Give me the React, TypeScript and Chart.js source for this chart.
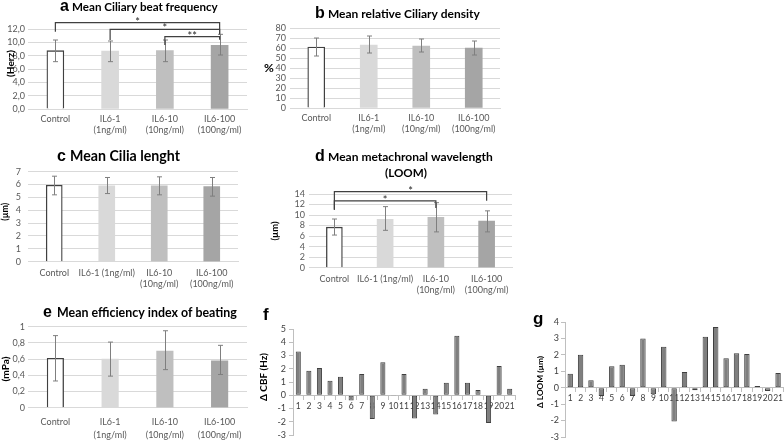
import React, { useEffect, useRef } from 'react';
import { Chart, registerables } from 'chart.js';
Chart.register(...registerables);

const FONT = "Lato, 'Open Sans', 'Liberation Sans', sans-serif";
const LETTER_FONT = "'Liberation Sans', Arial, sans-serif";
Chart.defaults.font.family = FONT;

// ---------- data ----------
const CATS_2LINE: any[] = ['Control', ['IL6-1', '(1ng/ml)'], ['IL6-10', '(10ng/ml)'], ['IL6-100', '(100ng/ml)']];
const CATS_MIXED: any[] = ['Control', 'IL6-1 (1ng/ml)', ['IL6-10', '(10ng/ml)'], ['IL6-100', '(100ng/ml)']];
const SUBJECTS = ['1', '2', '3', '4', '5', '6', '7', '8', '9', '10', '11', '12', '13', '14', '15', '16', '17', '18', '19', '20', '21'];

const CBF_MEAN = [8.75, 8.7, 8.75, 9.55];
const CBF_LOW = [7.1, 7.1, 7.1, 8.1];
const CBF_HIGH = [10.35, 10.2, 10.35, 11.2];

const DENS_MEAN = [61, 63, 62, 60];
const DENS_LOW = [52, 55, 56, 53];
const DENS_HIGH = [70, 72, 69, 67];

const LEN_MEAN = [5.95, 5.9, 5.9, 5.85];
const LEN_LOW = [5.2, 5.3, 5.2, 5.1];
const LEN_HIGH = [6.65, 6.55, 6.6, 6.55];

const LOOM_MEAN = [7.7, 9.2, 9.55, 8.85];
const LOOM_LOW = [6.2, 7.1, 6.8, 6.8];
const LOOM_HIGH = [9.25, 11.6, 12.35, 10.8];

const EFF_MEAN = [0.61, 0.6, 0.7, 0.58];
const EFF_LOW = [0.33, 0.39, 0.47, 0.41];
const EFF_HIGH = [0.89, 0.81, 0.95, 0.77];

const DELTA_CBF = [3.3, 1.85, 2.05, 1.1, 1.4, -0.4, 1.6, -1.8, 2.5, -0.05, 1.6, -1.75, 0.5, -1.45, 0.95, 4.5, 0.95, 0.4, -2.1, 2.2, 0.5];
const DELTA_LOOM = [0.85, 2.0, 0.45, -0.5, 1.3, 1.4, -0.5, 3.0, -0.4, 2.5, -2.05, 0.95, -0.15, 3.1, 3.7, 1.8, 2.1, 2.05, 0.1, -0.2, 0.9];

const TICKS_A = ['0,0', '2,0', '4,0', '6,0', '8,0', '10,0', '12,0'];
const TICKS_B = ['0', '10', '20', '30', '40', '50', '60', '70', '80'];
const TICKS_C = ['0', '1', '2', '3', '4', '5', '6', '7'];
const TICKS_D = ['0', '2', '4', '6', '8', '10', '12', '14'];
const TICKS_E = ['0', '0,2', '0,4', '0,6', '0,8', '1'];
const TICKS_F = ['-3', '-2', '-1', '0', '1', '2', '3', '4', '5'];
const TICKS_G = ['-3', '-2', '-1', '0', '1', '2', '3', '4'];

// significance brackets: category indices, bracket level, leg ends (data units)
const SIG_A = [
  { from: 0, to: 3, level: 12.95, left: 11.6, right: 11.2, text: '*' },
  { from: 1, to: 3, level: 11.95, left: 10.35, right: 11.2, text: '*' },
  { from: 2, to: 3, level: 10.85, left: 9.6, right: 10.4, text: '**' },
];
const SIG_D = [
  { from: 0, to: 3, level: 14.45, left: 11.0, right: 12.7, text: '*' },
  { from: 0, to: 2, level: 12.7, left: 11.0, right: 11.35, text: '*' },
];

const BAR_FILL = ['#ffffff', '#d9d9d9', '#bfbfbf', '#a5a5a5'];
const BAR_BORDER = ['#404040', '#d9d9d9', '#bfbfbf', '#a5a5a5'];
const BAR_BORDER_W = [1.3, 0, 0, 0];

// ---------- plugins ----------
type TextItem = {
  text: string; x: number; y: number; size: number; bold?: boolean; family?: string;
  rotate?: boolean; align?: CanvasTextAlign; baseline?: CanvasTextBaseline; width?: number; color?: string;
};

function decorPlugin(items: TextItem[]) {
  return {
    id: 'decor',
    afterDraw(chart: any) {
      const ctx = chart.ctx as CanvasRenderingContext2D;
      for (const it of items) {
        ctx.save();
        const fam = it.family || FONT;
        const weight = it.bold ? 'bold ' : '';
        let size = it.size;
        ctx.font = `${weight}${size}px ${fam}`;
        if (it.width) {
          const w = ctx.measureText(it.text).width;
          if (w > 0) size = (size * it.width) / w;
          ctx.font = `${weight}${size}px ${fam}`;
        }
        ctx.fillStyle = it.color || '#000000';
        ctx.textAlign = it.align || 'left';
        ctx.textBaseline = it.baseline || 'alphabetic';
        ctx.translate(it.x, it.y);
        if (it.rotate) ctx.rotate(-Math.PI / 2);
        ctx.fillText(it.text, 0, 0);
        ctx.restore();
      }
    },
  };
}

function errorPlugin(low: number[], high: number[]) {
  return {
    id: 'errbars',
    afterDatasetsDraw(chart: any) {
      const meta = chart.getDatasetMeta(0);
      const ys = chart.scales.y;
      const ctx = chart.ctx as CanvasRenderingContext2D;
      ctx.save();
      ctx.strokeStyle = '#7f7f7f';
      ctx.lineWidth = 1;
      meta.data.forEach((bar: any, i: number) => {
        const x = Math.round(bar.x) + 0.5;
        const y1 = ys.getPixelForValue(high[i]);
        const y2 = ys.getPixelForValue(low[i]);
        ctx.beginPath();
        ctx.moveTo(x, y1); ctx.lineTo(x, y2);
        ctx.moveTo(x - 2.5, y1); ctx.lineTo(x + 2.5, y1);
        ctx.moveTo(x - 2.5, y2); ctx.lineTo(x + 2.5, y2);
        ctx.stroke();
      });
      ctx.restore();
    },
  };
}

function sigPlugin(sigs: any[]) {
  return {
    id: 'sig',
    afterDatasetsDraw(chart: any) {
      const meta = chart.getDatasetMeta(0);
      const ys = chart.scales.y;
      const ctx = chart.ctx as CanvasRenderingContext2D;
      ctx.save();
      ctx.strokeStyle = '#404040';
      ctx.lineWidth = 1.2;
      ctx.fillStyle = '#262626';
      ctx.font = `11px ${FONT}`;
      ctx.textAlign = 'center';
      ctx.textBaseline = 'alphabetic';
      for (const s of sigs) {
        const x1 = meta.data[s.from].x;
        const x2 = meta.data[s.to].x;
        const yl = ys.getPixelForValue(s.level);
        ctx.beginPath();
        ctx.moveTo(x1, ys.getPixelForValue(s.left));
        ctx.lineTo(x1, yl);
        ctx.lineTo(x2, yl);
        ctx.lineTo(x2, ys.getPixelForValue(s.right));
        ctx.stroke();
        ctx.fillText(s.text, (x1 + x2) / 2, yl + 3);
      }
      ctx.restore();
    },
  };
}

// ---------- config builders ----------
type Area = { l: number; r: number; t: number; b: number };

function barCfg(o: {
  w: number; h: number; area: Area; labels: any[]; mean: number[]; low: number[]; high: number[];
  min: number; max: number; step: number; ticks: string[]; yPad: number; xPad: number; lineH: number;
  barW: number; sigs?: any[]; decor: TextItem[];
}) {
  const plugins: any[] = [errorPlugin(o.low, o.high)];
  if (o.sigs) plugins.push(sigPlugin(o.sigs));
  plugins.push(decorPlugin(o.decor));
  return {
    type: 'bar',
    data: {
      labels: o.labels,
      datasets: [{
        data: o.mean,
        backgroundColor: BAR_FILL,
        borderColor: BAR_BORDER,
        borderWidth: BAR_BORDER_W,
        barThickness: o.barW,
      }],
    },
    options: {
      responsive: false,
      animation: false,
      events: [],
      layout: { padding: { left: 0, top: o.area.t, right: o.w - o.area.r, bottom: 0 } },
      plugins: { legend: { display: false }, tooltip: { enabled: false } },
      scales: {
        x: {
          grid: { display: false, drawTicks: false },
          border: { display: true, color: '#d9d9d9' },
          ticks: { color: '#595959', font: { size: 9, lineHeight: o.lineH }, padding: o.xPad, maxRotation: 0, autoSkip: false },
          afterFit: (s: any) => { s.height = o.h - o.area.b; },
        },
        y: {
          min: o.min, max: o.max,
          grid: { color: '#d9d9d9', drawTicks: false },
          border: { display: false },
          ticks: { stepSize: o.step, autoSkip: false, color: '#595959', font: { size: 9 }, padding: o.yPad, callback: (_v: any, i: number) => o.ticks[i] },
          afterFit: (s: any) => { s.width = o.area.l; },
        },
      },
    },
    plugins,
  };
}

function deltaCfg(o: {
  w: number; h: number; area: Area; values: number[]; min: number; max: number; ticks: string[];
  barPct: number; xPad: number; yPad: number; decor: TextItem[];
}) {
  return {
    type: 'bar',
    data: {
      labels: SUBJECTS,
      datasets: [{
        data: o.values,
        backgroundColor: '#7f7f7f',
        borderColor: '#3f3f3f',
        borderWidth: 1,
        borderSkipped: false,
        barPercentage: o.barPct,
        categoryPercentage: 1,
      }],
    },
    options: {
      responsive: false,
      animation: false,
      events: [],
      layout: { padding: { left: 0, top: o.area.t, right: o.w - o.area.r, bottom: o.h - o.area.b } },
      plugins: { legend: { display: false }, tooltip: { enabled: false } },
      scales: {
        x: {
          position: { y: 0 },
          grid: { display: true, drawOnChartArea: false, drawTicks: true, tickLength: 4, color: '#bfbfbf' },
          border: { display: true, color: '#bfbfbf' },
          ticks: { color: '#404040', font: { size: 8.5 }, padding: o.xPad, maxRotation: 0, autoSkip: false },
        },
        y: {
          min: o.min, max: o.max,
          grid: { drawOnChartArea: false, drawTicks: true, tickLength: 4, color: '#bfbfbf' },
          border: { display: true, color: '#bfbfbf' },
          ticks: { stepSize: 1, autoSkip: false, color: '#404040', font: { size: 9 }, padding: o.yPad, callback: (_v: any, i: number) => o.ticks[i] },
          afterFit: (s: any) => { s.width = o.area.l; },
        },
      },
    },
    plugins: [decorPlugin(o.decor)],
  };
}

const letter = (t: string, x: number, y: number, size = 16): TextItem => ({ text: t, x, y, size, bold: true, family: LETTER_FONT });

const PANELS = [
  {
    key: 'a', left: 0, top: 0, w: 260, h: 145,
    build: () => barCfg({
      w: 260, h: 145, area: { l: 28, r: 247, t: 29, b: 109 }, labels: CATS_2LINE,
      mean: CBF_MEAN, low: CBF_LOW, high: CBF_HIGH, min: 0, max: 12, step: 2, ticks: TICKS_A,
      yPad: 3, xPad: 5, lineH: 1.2, barW: 17, sigs: SIG_A,
      decor: [
        letter('a', 60, 10.5),
        { text: 'Mean Ciliary beat frequency', x: 72, y: 10.5, size: 11, bold: true, width: 146 },
        { text: '(Herz)', x: 10.5, y: 63.5, size: 10.5, bold: true, rotate: true, align: 'center', baseline: 'middle', width: 27 },
      ],
    }),
  },
  {
    key: 'b', left: 260, top: 0, w: 260, h: 145,
    build: () => barCfg({
      w: 260, h: 145, area: { l: 30, r: 240, t: 28, b: 108 }, labels: CATS_2LINE,
      mean: DENS_MEAN, low: DENS_LOW, high: DENS_HIGH, min: 0, max: 80, step: 10, ticks: TICKS_B,
      yPad: 4, xPad: 5, lineH: 1.2, barW: 17,
      decor: [
        letter('b', 55, 18.3),
        { text: 'Mean relative Ciliary density', x: 68, y: 18.3, size: 11, bold: true, width: 152 },
        { text: '%', x: 9, y: 68.5, size: 12, bold: true, align: 'center', baseline: 'middle' },
      ],
    }),
  },
  {
    key: 'c', left: 0, top: 140, w: 260, h: 150,
    build: () => barCfg({
      w: 260, h: 150, area: { l: 28, r: 238, t: 31.7, b: 121.7 }, labels: CATS_MIXED,
      mean: LEN_MEAN, low: LEN_LOW, high: LEN_HIGH, min: 0, max: 7, step: 1, ticks: TICKS_C,
      yPad: 7, xPad: 6, lineH: 1.2, barW: 16,
      decor: [
        letter('c', 57, 20.5),
        { text: 'Mean Cilia lenght', x: 70, y: 20.5, size: 12, bold: true, width: 110 },
        { text: '(µm)', x: 5.5, y: 71.7, size: 10.5, bold: true, rotate: true, align: 'center', baseline: 'middle', width: 18 },
      ],
    }),
  },
  {
    key: 'd', left: 260, top: 140, w: 260, h: 160,
    build: () => barCfg({
      w: 260, h: 160, area: { l: 49, r: 252, t: 54, b: 127.7 }, labels: CATS_MIXED,
      mean: LOOM_MEAN, low: LOOM_LOW, high: LOOM_HIGH, min: 0, max: 14, step: 2, ticks: TICKS_D,
      yPad: 4, xPad: 6, lineH: 1.2, barW: 16, sigs: SIG_D,
      decor: [
        letter('d', 55, 20.7),
        { text: 'Mean metachronal wavelength', x: 68, y: 20.7, size: 12, bold: true, width: 165 },
        { text: '(LOOM)', x: 146, y: 36.7, size: 12, bold: true, align: 'center', width: 42 },
        { text: '(µm)', x: 14.5, y: 91, size: 10.5, bold: true, rotate: true, align: 'center', baseline: 'middle', width: 19 },
      ],
    }),
  },
  {
    key: 'e', left: 0, top: 290, w: 260, h: 150,
    build: () => barCfg({
      w: 260, h: 150, area: { l: 28, r: 247, t: 36.7, b: 117.7 }, labels: CATS_2LINE,
      mean: EFF_MEAN, low: EFF_LOW, high: EFF_HIGH, min: 0, max: 1, step: 0.2, ticks: TICKS_E,
      yPad: 3, xPad: 8, lineH: 1.45, barW: 16.5,
      decor: [
        letter('e', 43, 27.3),
        { text: 'Mean efficiency index of beating', x: 57, y: 27.3, size: 11, bold: true, width: 180 },
        { text: '(mPa)', x: 6, y: 79, size: 10.5, bold: true, rotate: true, align: 'center', baseline: 'middle', width: 25 },
      ],
    }),
  },
  {
    key: 'f', left: 255, top: 300, w: 265, h: 150,
    build: () => deltaCfg({
      w: 265, h: 150, area: { l: 38, r: 260, t: 29, b: 135 }, values: DELTA_CBF, min: -3, max: 5, ticks: TICKS_F,
      barPct: 0.48, xPad: 2, yPad: 3,
      decor: [
        letter('f', 8, 20, 17),
        { text: 'Δ CBF (Hz)', x: 9, y: 77, size: 10, bold: true, rotate: true, align: 'center', baseline: 'middle', width: 48 },
      ],
    }),
  },
  {
    key: 'g', left: 520, top: 300, w: 264, h: 150,
    build: () => deltaCfg({
      w: 264, h: 150, area: { l: 45, r: 264, t: 22, b: 137 }, values: DELTA_LOOM, min: -3, max: 4, ticks: TICKS_G,
      barPct: 0.52, xPad: 1, yPad: 2,
      decor: [
        letter('g', 13, 24, 17),
        { text: 'Δ LOOM (µm)', x: 20.5, y: 82, size: 10, bold: true, rotate: true, align: 'center', baseline: 'middle', width: 52 },
      ],
    }),
  },
];

function Panel({ left, top, w, h, build }: { left: number; top: number; w: number; h: number; build: () => any }) {
  const ref = useRef<HTMLCanvasElement>(null);
  useEffect(() => {
    const chart = new Chart(ref.current as HTMLCanvasElement, build());
    return () => chart.destroy();
  }, []);
  return (
    <canvas
      ref={ref}
      width={w}
      height={h}
      style={{ position: 'absolute', left, top, width: w, height: h }}
    />
  );
}

export default function App() {
  return (
    <div style={{ position: 'absolute', left: 0, top: 0, width: 784, height: 440, overflow: 'hidden', background: '#ffffff' }}>
      {PANELS.map((p) => (
        <Panel key={p.key} left={p.left} top={p.top} w={p.w} h={p.h} build={p.build} />
      ))}
    </div>
  );
}
